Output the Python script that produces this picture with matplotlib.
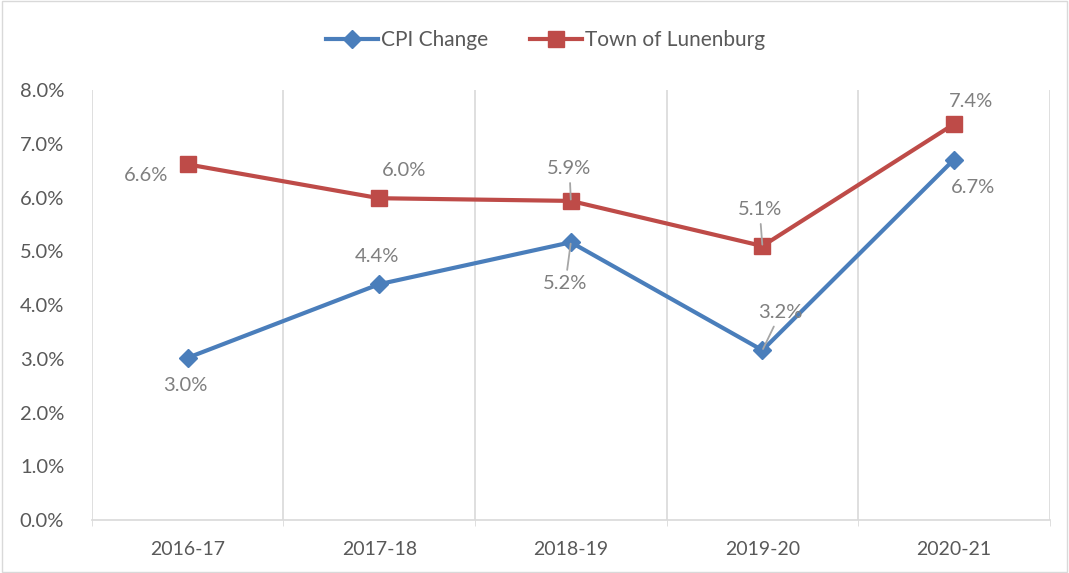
import numpy as np
import matplotlib.pyplot as plt
from matplotlib.patches import Rectangle

# datos
years = ["2016-17", "2017-18", "2018-19", "2019-20", "2020-21"]
cpi = [3.02, 4.39, 5.17, 3.16, 6.71]
town = [6.62, 5.99, 5.94, 5.10, 7.37]
y_ticks = [0, 1, 2, 3, 4, 5, 6, 7, 8]

# desplazamiento de las etiquetas (puntos)
cpi_off = [(-2, -20), (-2, 20), (-4, -30), (13, 27), (14, -20)]
cpi_lead = [False, False, True, True, False]
town_off = [(-30, -8), (18, 20), (-1, 23), (-2, 26), (12, 16)]
town_lead = [False, False, True, True, False]

plt.rcParams['font.family'] = ['Lato', 'DejaVu Sans']

fig = plt.figure(figsize=(10.69, 5.73), dpi=100)
ax = fig.add_axes([0.086, 0.0925, 0.896, 0.75])

x = np.arange(len(years))
ax.plot(x, cpi, color="#4a7ebb", lw=3, marker="D", ms=9, label="CPI Change", zorder=3)
ax.plot(x, town, color="#be4b48", lw=3, marker="s", ms=11, label="Town of Lunenburg", zorder=3)

def etiquetas(vals, offs, leads):
    for i, v in enumerate(vals):
        dx, dy = offs[i]
        props = None
        if leads[i]:
            props = dict(arrowstyle="-", color="#a6a6a6", lw=1.3, shrinkA=2, shrinkB=1)
        ax.annotate(f"{v:.1f}%", (i, v), xytext=(dx, dy), textcoords="offset points",
                    ha="center", va="center", fontsize=14.5, color="#7f7f7f",
                    arrowprops=props, zorder=4)

etiquetas(cpi, cpi_off, cpi_lead)
etiquetas(town, town_off, town_lead)

ax.set_xlim(-0.5, len(years) - 0.5)
ax.set_ylim(0, 8)
ax.set_yticks(y_ticks)
ax.set_yticklabels([f"{t:.1f}%" for t in y_ticks])
ax.set_xticks(x)
ax.set_xticklabels(years)
ax.set_xticks(np.arange(-0.5, len(years)), minor=True)
ax.grid(True, which="minor", axis="x", color="#d9d9d9", lw=1.2)
ax.tick_params(axis="x", which="major", length=0, pad=15, labelsize=14, labelcolor="#595959")
ax.tick_params(axis="x", which="minor", length=4, color="#d9d9d9")
ax.tick_params(axis="y", length=0, pad=20, labelsize=14.5, labelcolor="#595959")
for s in ["top", "right", "left"]:
    ax.spines[s].set_visible(False)
ax.spines["bottom"].set_color("#d9d9d9")
ax.spines["bottom"].set_linewidth(1.2)

fig.legend(loc="upper center", bbox_to_anchor=(0.51, 0.98), ncol=2, frameon=False,
           fontsize=15, labelcolor="#595959", handlelength=2.5, columnspacing=2.0,
           handletextpad=0.15)

fig.patches.append(Rectangle((0.002, 0.002), 0.996, 0.996, transform=fig.transFigure,
                             fill=False, edgecolor="#d9d9d9", lw=1))

fig.savefig("out.png", dpi=100)
